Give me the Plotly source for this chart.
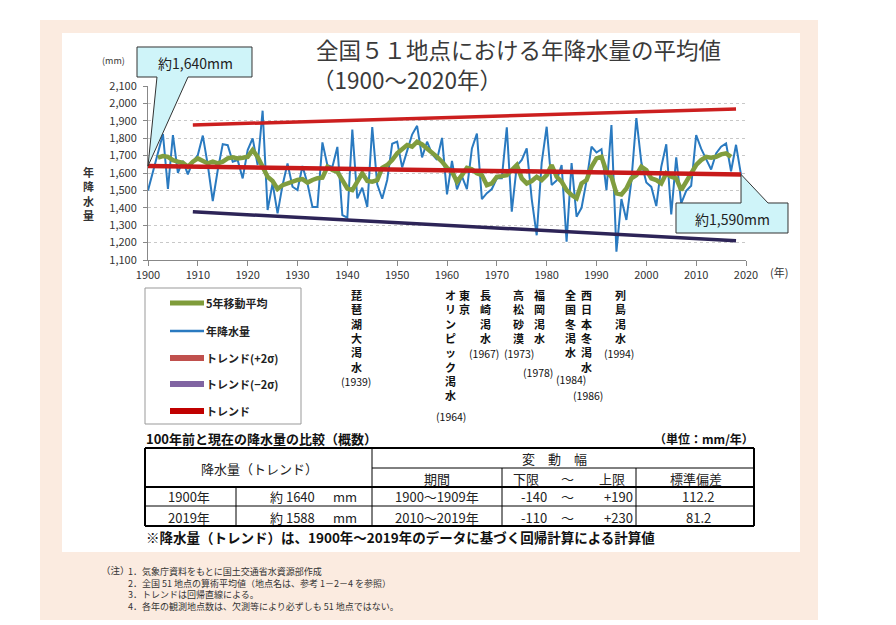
import plotly.graph_objects as go

# ---------------- data ----------------
years = list(range(1900, 2020))
annual_precip = [
    1500, 1610, 1705, 1824, 1508, 1818, 1601, 1670, 1592, 1665,
    1703, 1815, 1645, 1439, 1617, 1766, 1760, 1665, 1674, 1569,
    1732, 1799, 1646, 1958, 1387, 1540, 1368, 1530, 1655, 1521,
    1502, 1640, 1540, 1405, 1405, 1776, 1645, 1635, 1750, 1358,
    1343, 1850, 1454, 1515, 1405, 1864, 1535, 1452, 1560, 1768,
    1780, 1632, 1727, 1821, 1871, 1690, 1780, 1710, 1676, 1802,
    1477, 1669, 1506, 1580, 1508, 1741, 1826, 1450, 1484, 1508,
    1570, 1570, 1862, 1378, 1641, 1675, 1742, 1450, 1242, 1660,
    1866, 1531, 1557, 1646, 1205, 1657, 1349, 1400, 1555, 1751,
    1718, 1737, 1502, 1875, 1148, 1450, 1330, 1555, 1915, 1660,
    1545, 1520, 1410, 1636, 1765, 1362, 1690, 1426, 1497, 1527,
    1818, 1740, 1680, 1620, 1713, 1751, 1770, 1610, 1762, 1589,
]
ma_years = list(range(1902, 2018))
ma5 = [
    1688, 1697, 1693, 1674, 1665, 1659, 1636, 1665,
    1684, 1669, 1655, 1665, 1655, 1665, 1684, 1690, 1684, 1688,
    1693, 1732, 1693, 1636, 1578, 1554, 1508, 1530, 1540, 1554,
    1560, 1565, 1545, 1560, 1570, 1573, 1636, 1617, 1607, 1559,
    1511, 1502, 1546, 1598, 1554, 1550, 1559, 1630, 1646, 1674,
    1713, 1741, 1761, 1751, 1780, 1764, 1741, 1722, 1693, 1665,
    1630, 1607, 1550, 1588, 1630, 1622, 1598, 1588, 1530, 1540,
    1578, 1582, 1588, 1617, 1646, 1569, 1540, 1554, 1578, 1559,
    1588, 1646, 1578, 1550, 1502, 1473, 1455, 1540, 1559, 1636,
    1684, 1693, 1607, 1578, 1483, 1477, 1511, 1569, 1588, 1636,
    1617, 1569, 1559, 1540, 1598, 1578, 1569, 1502, 1550, 1588,
    1646, 1674, 1693, 1688, 1693, 1707, 1713, 1693,
]
trend_years = [1900, 2019]
trend_vals = [1640, 1592]
upper_years = [1909, 2018]
upper_vals = [1876, 1968]
lower_years = [1909, 2018]
lower_vals = [1377, 1211]

x_ticks = list(range(1900, 2021, 10))
y_ticks = list(range(1100, 2101, 100))

callout_texts = ["約1,640mm", "約1,590mm"]

drought_names = ["琵琶湖大渇水", "東京オリンピック渇水", "長崎渇水", "高松砂漠",
                 "福岡渇水", "全国冬渇水", "西日本冬渇水", "列島渇水"]
drought_years = [1939, 1964, 1967, 1973, 1978, 1984, 1986, 1994]

legend_labels = ["5年移動平均", "年降水量", "トレンド(+2σ)", "トレンド(−2σ)", "トレンド"]

table_title = "100年前と現在の降水量の比較（概数）"
table_unit = "（単位：mm/年）"
table_head1 = ["降水量（トレンド）", "変　動　幅"]
table_head2 = ["期間", "下限", "～", "上限", "標準偏差"]
table_rows = [
    ["1900年", "約 1640", "mm", "1900～1909年", "-140", "～", "+190", "112.2"],
    ["2019年", "約 1588", "mm", "2010～2019年", "-110", "～", "+230", "81.2"],
]
table_note = "※降水量（トレンド）は、1900年～2019年のデータに基づく回帰計算による計算値"
notes_head = "（注）"
notes = [
    "1．気象庁資料をもとに国土交通省水資源部作成",
    "2．全国 51 地点の算術平均値（地点名は、参考 1－2－4 を参照）",
    "3．トレンドは回帰直線による。",
    "4．各年の観測地点数は、欠測等により必ずしも 51 地点ではない。",
]
title_lines = ["全国５１地点における年降水量の平均値", "（1900～2020年）"]
y_title = "年降水量"

# ---------------- layout helpers ----------------
W, H = 896, 625
L, R, T, B = 148, 746, 86, 260
XR = [1900, 2020]
YR = [1100, 2100]
FONT = "Noto Sans CJK JP, Noto Sans, sans-serif"


def px(x):
    return (x - L) / (R - L)


def py(y):
    return (B - y) / (B - T)


def P(x, y):
    return f"{px(x):.5f},{py(y):.5f}"


def dpaper(xv, yv):
    return ((xv - XR[0]) / (XR[1] - XR[0]), (yv - YR[0]) / (YR[1] - YR[0]))


def dpix(xv, yv):
    a, b = dpaper(xv, yv)
    return L + a * (R - L), B - b * (B - T)


shapes = []
annotations = []


def text(x, y, s, size=11, xa="center", ya="middle", color="#222", bold=False, align="center"):
    annotations.append(dict(
        x=px(x), y=py(y), xref="paper", yref="paper",
        text=(f"<b>{s}</b>" if bold else s), showarrow=False, align=align,
        xanchor=xa, yanchor=ya, borderpad=0,
        font=dict(size=size, color=color, family=FONT),
    ))


def hline(x0, x1, y, w=1, color="#000"):
    shapes.append(dict(type="line", xref="paper", yref="paper", x0=px(x0), x1=px(x1),
                       y0=py(y), y1=py(y), line=dict(color=color, width=w)))


def vline(x, y0, y1, w=1, color="#000"):
    shapes.append(dict(type="line", xref="paper", yref="paper", x0=px(x), x1=px(x),
                       y0=py(y0), y1=py(y1), line=dict(color=color, width=w)))


# background frame
shapes.append(dict(type="rect", xref="paper", yref="paper", x0=px(40), x1=px(818), y0=py(620), y1=py(20),
                   fillcolor="#FBEBE0", line=dict(width=0), layer="below"))
shapes.append(dict(type="rect", xref="paper", yref="paper", x0=px(62), x1=px(800), y0=py(552), y1=py(33),
                   fillcolor="#FFFFFF", line=dict(width=0), layer="below"))

# ---------------- traces ----------------
fig = go.Figure()
fig.add_trace(go.Scatter(x=years, y=annual_precip, mode="lines",
                         line=dict(color="#2A7AC0", width=2), showlegend=False))
fig.add_trace(go.Scatter(x=ma_years, y=ma5, mode="lines",
                         line=dict(color="#809D3E", width=4.5), showlegend=False))
fig.add_trace(go.Scatter(x=upper_years, y=upper_vals, mode="lines",
                         line=dict(color="#CC1F1F", width=3.5), showlegend=False))
fig.add_trace(go.Scatter(x=lower_years, y=lower_vals, mode="lines",
                         line=dict(color="#2D2457", width=3.5), showlegend=False))
fig.add_trace(go.Scatter(x=trend_years, y=trend_vals, mode="lines",
                         line=dict(color="#C81A1A", width=4.5), showlegend=False))

# ---------------- callouts ----------------
tx, ty = dpix(trend_years[0], trend_vals[0])
path1 = (f"M {P(137,47)} L {P(252,47)} L {P(252,77)} L {P(188,77)} L {P(tx,ty)} "
         f"L {P(157,77)} L {P(137,77)} Z")
shapes.append(dict(type="path", xref="paper", yref="paper", path=path1,
                   fillcolor="#CFF4F9", line=dict(color="#333", width=1)))
text(195, 63, callout_texts[0], size=14)
tx2, ty2 = dpix(trend_years[1], trend_vals[1])
path2 = (f"M {P(676,203)} L {P(tx2,203)} L {P(tx2,ty2)} L {P(768,203)} L {P(788,203)} "
         f"L {P(788,233)} L {P(676,233)} Z")
shapes.append(dict(type="path", xref="paper", yref="paper", path=path2,
                   fillcolor="#CFF4F9", line=dict(color="#333", width=1)))
text(732, 219, callout_texts[1], size=14)

# ---------------- titles / axis labels ----------------
text(315, 49, title_lines[0], size=22.5, xa="left", color="#3a3a3a")
text(311, 79, title_lines[1], size=22.5, xa="left", color="#3a3a3a")
text(113, 61, "(mm)", size=9, color="#333")
text(88, 163, "<br>".join(y_title), size=11, ya="top", bold=True, color="#333")
text(769, 272, "(年)", size=11, xa="left", color="#333")

# ---------------- legend (manual) ----------------
shapes.append(dict(type="rect", xref="paper", yref="paper", x0=px(145), x1=px(301), y0=py(424), y1=py(288),
                   fillcolor="rgba(0,0,0,0)", line=dict(color="#999", width=1)))
leg_colors = ["#7F9C3A", "#2A7AC0", "#C0504D", "#8064A2", "#C00000"]
leg_widths = [5, 2.5, 6, 6, 6]
leg_rows = [303, 331, 358, 384, 411]
for lab, c, w, yy in zip(legend_labels, leg_colors, leg_widths, leg_rows):
    hline(170, 204, yy, w=w, color=c)
    text(205, yy, lab, size=11, xa="left", color="#222", bold=True)

# ---------------- drought labels ----------------
col_x = [[356], [450, 464], [485], [518], [539], [570], [586], [620]]
year_lab = [(356, 381), (451, 416), (484, 353), (519, 353), (538, 372), (571, 379), (588, 395), (619, 353)]
top_y = 286
for name, yr, cx, (lx, ly) in zip(drought_names, drought_years, col_x, year_lab):
    cols = [name[2:], name[:2]] if name.startswith("東京") else [name]
    for colstr, xx in zip(cols, cx):
        text(xx, top_y, "<br>".join(colstr), size=11, ya="top", bold=True, color="#111")
    text(lx, ly, f"({yr})", size=10.5, color="#111")

# ---------------- table ----------------
text(145, 438, table_title, size=13, xa="left", color="#111", bold=True)
text(755, 438, table_unit, size=12, xa="right", color="#111", bold=True)
hline(145, 754, 448, w=2)
hline(372, 754, 468, w=1)
hline(145, 754, 487, w=2)
hline(145, 754, 506, w=1)
hline(145, 754, 526, w=2)
vline(145, 448, 526, w=2)
vline(754, 448, 526, w=2)
vline(236, 487, 526, w=1)
vline(372, 448, 526, w=1)
vline(502, 468, 526, w=1)
vline(636, 468, 526, w=1)
text(259, 468, table_head1[0], size=13)
text(554, 458, table_head1[1], size=13)
for s, xx in zip(table_head2, [437, 526, 567, 612, 696]):
    text(xx, 478, s, size=13)
col_pos = [189, 292, 345, 437, 534, 567, 618, 698]
for row, yy in zip(table_rows, [497, 517]):
    for s, xx in zip(row, col_pos):
        text(xx, yy, s, size=13)
text(145, 537, table_note, size=13.5, xa="left", color="#111", bold=True)

# ---------------- notes ----------------
text(100, 570, notes_head, size=9.5, xa="left", color="#333")
text(127, 564, "<br>".join(notes), size=9, xa="left", ya="top", align="left", color="#333")

# ---------------- layout ----------------
fig.update_layout(
    width=W, height=H, autosize=False,
    margin=dict(l=L, r=W - R, t=T, b=H - B, pad=0),
    paper_bgcolor="#FFFFFF", plot_bgcolor="#FFFFFF",
    font=dict(family=FONT, size=11, color="#333"),
    showlegend=False,
    shapes=shapes, annotations=annotations,
    xaxis=dict(range=XR, tickvals=x_ticks, ticktext=[str(v) for v in x_ticks],
               showgrid=False, zeroline=False, showline=True, linecolor="#888", linewidth=1,
               ticks="outside", ticklen=5, tickcolor="#888",
               tickfont=dict(size=11, color="#333", family=FONT)),
    yaxis=dict(range=YR, tickvals=y_ticks, tickformat=",d",
               showgrid=True, gridcolor="#C8C8C8", griddash="dot", gridwidth=1,
               zeroline=False, showline=True, linecolor="#888", linewidth=1,
               ticks="outside", ticklen=4, tickcolor="#888", ticklabelstandoff=4,
               tickfont=dict(size=11, color="#333", family=FONT)),
)

fig.write_html("out.html")
